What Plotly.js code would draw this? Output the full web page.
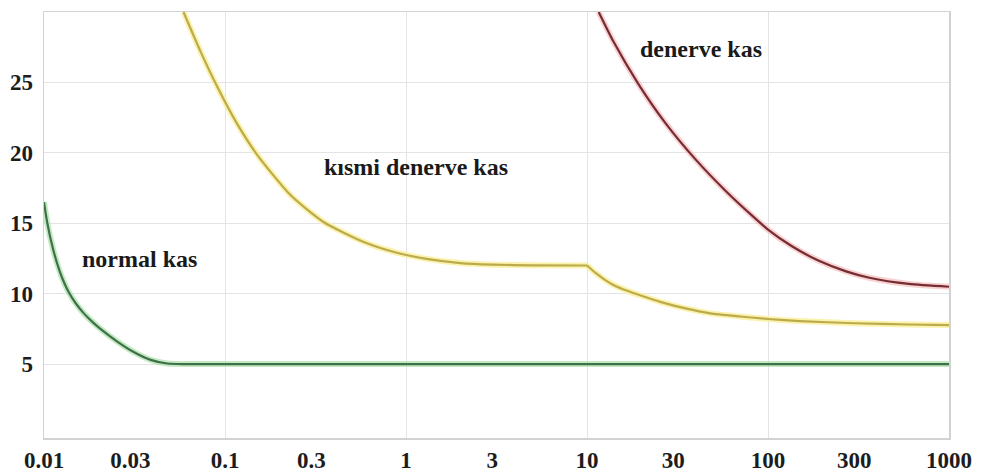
<!DOCTYPE html>
<html>
<head>
<meta charset="utf-8">
<script src="https://cdn.plot.ly/plotly-3.0.1.min.js"></script>
<style>
  html, body { margin: 0; padding: 0; background: #ffffff; }
  #chart { width: 982px; height: 474px; }
</style>
</head>
<body>
<div id="chart"></div>
<script>
// Stimulus duration (ms) on the x axis, stimulus intensity on the y axis
const tickValues = [0.01, 0.03, 0.1, 0.3, 1, 3, 10, 30, 100, 300, 1000];
const tickLabels = ['0.01', '0.03', '0.1', '0.3', '1', '3', '10', '30', '100', '300', '1000'];
const decadeLines = [0.01, 0.1, 1, 10, 100, 1000];
const yTickValues = [5, 10, 15, 20, 25];

// normal kas
const normalX = [0.01, 0.0104, 0.0112, 0.0122, 0.013, 0.0137, 0.015, 0.0166, 0.0185, 0.0205, 0.0254, 0.0313, 0.0388, 0.048, 0.06, 0.1, 1, 10, 100, 1000];
const normalY = [16.5, 15.1, 13.2, 11.6, 10.7, 10.1, 9.3, 8.6, 8.0, 7.5, 6.6, 5.86, 5.3, 5.04, 5.0, 5.0, 5.0, 5.0, 5.0, 5.0];

// kısmi denerve kas (the plateau ends at 10, where the curve drops again)
const partialX = [0.059, 0.073, 0.0908, 0.115, 0.151, 0.23, 0.35, 0.58, 0.9, 1.3, 2.0, 3, 5, 10,
                  11.2, 12.5, 14, 16.7, 20, 25.4, 35, 48, 70, 100, 150, 300, 600, 1000];
const partialY = [30, 27.24, 24.67, 22.2, 19.84, 17.0, 15.09, 13.69, 12.89, 12.47, 12.17, 12.06, 12.01, 12.0,
                  11.45, 11.0, 10.62, 10.2, 9.85, 9.42, 8.95, 8.6, 8.38, 8.2, 8.05, 7.9, 7.81, 7.77];
const partialBreak = 10;

// denerve kas
const denervX = [11.6, 14, 19.2, 27, 40, 58, 82, 100, 135, 191, 270, 363, 600, 1000];
const denervY = [30, 27.9, 24.9, 22.15, 19.5, 17.33, 15.52, 14.55, 13.38, 12.33, 11.58, 11.13, 10.69, 10.49];

const serif = '"Liberation Serif", "Times New Roman", Times, serif';

function curve(x, y, color, width) {
  return {
    x: x, y: y, type: 'scatter', mode: 'lines',
    line: { color: color, width: width, shape: 'spline', smoothing: 0.6 },
    hoverinfo: 'skip', showlegend: false
  };
}

// split the partial curve at its corner so the spline keeps it sharp
const k = partialX.indexOf(partialBreak);
const partA = [partialX.slice(0, k + 1), partialY.slice(0, k + 1)];
const partB = [partialX.slice(k), partialY.slice(k)];

const halo = { green: 'rgba(170,225,170,0.7)', yellow: 'rgba(250,240,160,0.85)', red: 'rgba(245,190,190,0.7)' };
const ink = { green: '#3f7048', yellow: '#bcab4c', red: '#762c33' };

const traces = [
  curve(normalX, normalY, halo.green, 6),
  curve(partA[0], partA[1], halo.yellow, 6),
  curve(partB[0], partB[1], halo.yellow, 6),
  curve(denervX, denervY, halo.red, 6),
  curve(normalX, normalY, ink.green, 2.2),
  curve(partA[0], partA[1], ink.yellow, 2.2),
  curve(partB[0], partB[1], ink.yellow, 2.2),
  curve(denervX, denervY, ink.red, 2.2)
];

const labelFont = { family: serif, size: 24, color: '#1a1a1a', weight: 700 };
const tickFont = { family: serif, size: 23, color: '#1c1c1c', weight: 700 };

const layout = {
  width: 982, height: 474,
  margin: { l: 44, r: 33, t: 12, b: 36 },
  paper_bgcolor: '#ffffff', plot_bgcolor: '#ffffff',
  xaxis: {
    type: 'log', range: [Math.log10(0.01), Math.log10(1000)],
    tickmode: 'array', tickvals: tickValues, ticktext: tickLabels,
    showgrid: false, zeroline: false, ticks: '',
    showline: true, mirror: true, linecolor: '#d2d2d2', linewidth: 1.5,
    minor: { tickmode: 'array', tickvals: decadeLines, showgrid: true, gridcolor: '#e4e4e4', gridwidth: 1, ticks: '' },
    tickfont: tickFont,
    ticklabelstandoff: 1
  },
  yaxis: {
    range: [-0.25, 30], tickmode: 'array', tickvals: yTickValues,
    showgrid: true, gridcolor: '#e4e4e4', gridwidth: 1, zeroline: false, ticks: '',
    showline: true, mirror: true, linecolor: '#d2d2d2', linewidth: 1.5,
    tickfont: tickFont,
    ticklabelstandoff: 5
  },
  annotations: [
    { x: Math.log10(0.0335), y: 12.45, xref: 'x', yref: 'y', text: 'normal kas', showarrow: false, font: labelFont },
    { x: Math.log10(1.13), y: 19.0, xref: 'x', yref: 'y', text: 'kısmi denerve kas', showarrow: false, font: labelFont },
    { x: Math.log10(42.4), y: 27.4, xref: 'x', yref: 'y', text: 'denerve kas', showarrow: false, font: labelFont }
  ]
};

Plotly.newPlot('chart', traces, layout, { staticPlot: true, displayModeBar: false });
</script>
</body>
</html>
